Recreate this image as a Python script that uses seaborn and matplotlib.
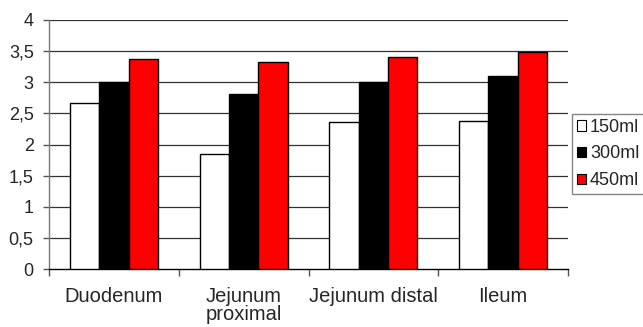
import pandas as pd
import numpy as np
import matplotlib
matplotlib.use("Agg")
import matplotlib.pyplot as plt
from matplotlib.patches import Patch
import seaborn as sns

# ── dados ───────────────────────────────────────────────────────────────────
segments = ["Duodenum", "Jejunum\nproximal", "Jejunum distal", "Ileum"]
volumes = ["150ml", "300ml", "450ml"]
vals_150 = [2.66, 1.84, 2.36, 2.37]
vals_300 = [3.00, 2.81, 3.00, 3.10]
vals_450 = [3.38, 3.33, 3.41, 3.49]
y_ticks = [0, 0.5, 1, 1.5, 2, 2.5, 3, 3.5, 4]
y_labels = ["0", "0,5", "1", "1,5", "2", "2,5", "3", "3,5", "4"]
colors = ["white", "black", "#ff0000"]

df = pd.DataFrame({
    "segment": segments * 3,
    "volume": [v for v in volumes for _ in segments],
    "value": vals_150 + vals_300 + vals_450,
})

sns.set_style("white")
plt.rcParams["font.family"] = ["Liberation Sans", "DejaVu Sans"]

fig = plt.figure(figsize=(6.43, 3.27), dpi=100)
ax = fig.add_axes([49 / 643, 1 - 269 / 327, (568 - 49) / 643, (269 - 20) / 327])

sns.barplot(data=df, x="segment", y="value", hue="volume", order=segments,
            hue_order=volumes, palette=colors, saturation=1, width=0.68, gap=0,
            edgecolor="black", linewidth=1.0, ax=ax, legend=False, zorder=3)

ax.set_ylim(0, 4)
ax.set_xlim(-0.5, 3.5)
ax.set_yticks(y_ticks)
ax.set_yticklabels(y_labels, fontsize=13)
for y in y_ticks[1:]:
    ax.axhline(y, color="#333333", linewidth=0.9, zorder=1)

ax.set_xlabel("")
ax.set_ylabel("")
ax.tick_params(axis="x", which="major", length=0, pad=13, labelsize=14.5)
ax.set_xticks(np.arange(-0.5, 4.0, 1.0), minor=True)
ax.tick_params(axis="x", which="minor", length=5, width=1, color="#555555", direction="out", bottom=True)
ax.tick_params(axis="y", length=4.5, width=1, color="#555555", direction="out", left=True, pad=6.5)
for lab in ax.get_xticklabels():
    lab.set_linespacing(0.95)

for s in ["top", "right"]:
    ax.spines[s].set_visible(False)
ax.spines["left"].set_color("#777777")
ax.spines["bottom"].set_color("black")
ax.spines["left"].set_linewidth(1)
ax.spines["bottom"].set_linewidth(1)

handles = [Patch(facecolor=c, edgecolor="black", linewidth=0.8, label=v)
           for c, v in zip(colors, volumes)]
leg = fig.legend(handles=handles, loc="upper left",
                 bbox_to_anchor=(572 / 643, 1 - 114 / 327), fontsize=13,
                 frameon=True, fancybox=False, handlelength=0.55, handleheight=0.55,
                 handletextpad=0.2, labelspacing=0.55, borderpad=0.25,
                 borderaxespad=0)
leg.get_frame().set_edgecolor("#666666")
leg.get_frame().set_linewidth(1)

fig.savefig("out.png", dpi=100)
